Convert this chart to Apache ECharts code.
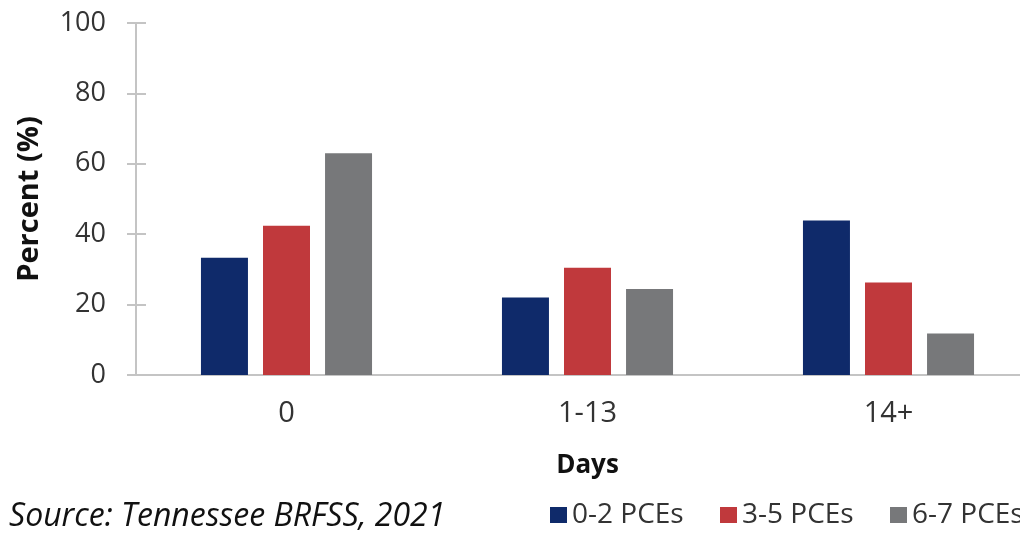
<!DOCTYPE html>
<html>
<head>
<meta charset="utf-8">
<script src="https://cdn.jsdelivr.net/npm/echarts@6/dist/echarts.min.js"></script>
<style>
  html, body { margin: 0; padding: 0; background: #fff; }
  #chart { width: 1020px; height: 536px; }
</style>
</head>
<body>
<div id="chart"></div>
<script>
// Days of poor mental health, by number of positive childhood experiences
const categories = ['0', '1-13', '14+'];
const seriesNames = ['0-2 PCEs', '3-5 PCEs', '6-7 PCEs'];
const pce02 = [33.3, 22.0, 43.9];
const pce35 = [42.4, 30.5, 26.3];
const pce67 = [63.0, 24.4, 11.8];
const colors = ['#0f2a6a', '#c0393c', '#77787a'];
const yTicks = { min: 0, max: 100, interval: 20 };

const FONT = "'Open Sans', 'DejaVu Sans', sans-serif";
const TEXT = '#333333';
const AXIS = '#c4c4c4';

const values = [pce02, pce35, pce67];
const legendLefts = [550, 720, 890];

const chart = echarts.init(document.getElementById('chart'), null, { renderer: 'canvas' });

chart.setOption({
  animation: false,
  backgroundColor: '#ffffff',
  textStyle: { fontFamily: FONT },
  // the plot runs past the right edge, so the last group sits near the border
  grid: { left: 136, top: 23, width: 903, height: 352, containLabel: false, outerBoundsMode: 'none' },
  legend: seriesNames.map((name, i) => ({
    data: [name],
    left: legendLefts[i],
    top: 500,
    padding: 0,
    icon: 'rect',
    itemWidth: 17,
    itemHeight: 16,
    selectedMode: false,
    textStyle: { fontFamily: FONT, fontSize: 28, color: TEXT, lineHeight: 30 }
  })),
  xAxis: {
    type: 'category',
    data: categories,
    name: 'Days',
    nameLocation: 'middle',
    nameGap: 78,
    nameTextStyle: { fontFamily: FONT, fontSize: 26, fontWeight: 'bold', color: '#111' },
    axisLine: { show: true, lineStyle: { color: AXIS, width: 2 } },
    axisTick: { show: false },
    axisLabel: { fontFamily: FONT, fontSize: 29, color: TEXT, margin: 24 },
    splitLine: { show: false }
  },
  yAxis: [
    {
      type: 'value',
      min: yTicks.min,
      max: yTicks.max,
      interval: yTicks.interval,
      name: 'Percent (%)',
      nameLocation: 'middle',
      nameGap: 92,
      nameTextStyle: { fontFamily: FONT, fontSize: 29, fontWeight: 'bold', color: '#111' },
      axisLine: { show: true, lineStyle: { color: AXIS, width: 2 } },
      axisTick: { show: true, length: 9, lineStyle: { color: AXIS, width: 2 } },
      axisLabel: { fontFamily: FONT, fontSize: 27, color: TEXT, margin: 30 },
      splitLine: { show: false }
    },
    {
      // inner half of the cross ticks on the value axis
      type: 'value',
      position: 'left',
      min: yTicks.min,
      max: yTicks.max,
      interval: yTicks.interval,
      axisLine: { show: false },
      axisTick: { show: true, inside: true, length: 10, lineStyle: { color: AXIS, width: 2 } },
      axisLabel: { show: false },
      splitLine: { show: false }
    }
  ],
  series: seriesNames.map((name, i) => ({
    name: name,
    type: 'bar',
    yAxisIndex: 0,
    data: values[i],
    barWidth: 47,
    barGap: '32%',
    itemStyle: { color: colors[i] }
  })),
  graphic: [
    {
      type: 'text',
      left: 9,
      top: 501,
      style: {
        text: 'Source: Tennessee BRFSS, 2021',
        fontFamily: FONT,
        fontSize: 32,
        fontStyle: 'italic',
        fill: '#111'
      }
    }
  ]
});
</script>
</body>
</html>
